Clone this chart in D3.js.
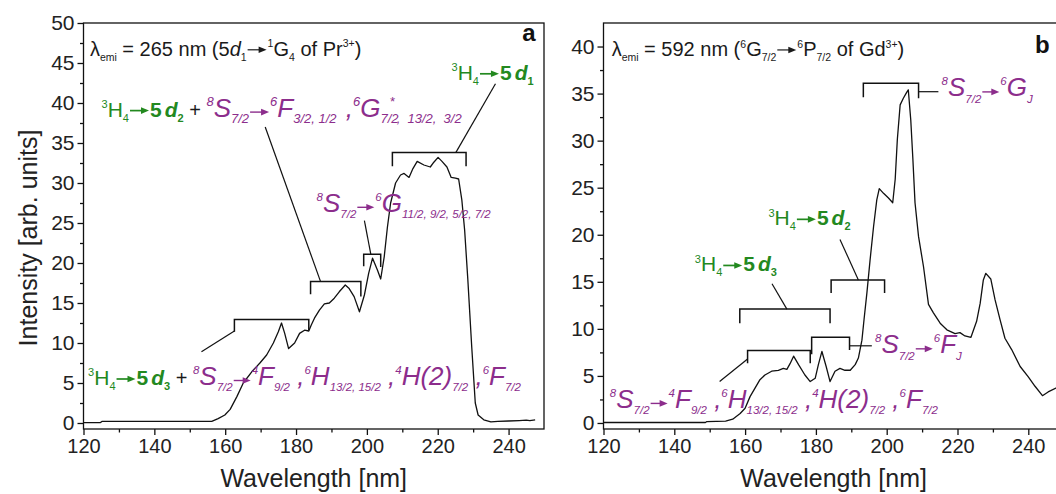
<!DOCTYPE html>
<html>
<head>
<meta charset="utf-8">
<script src="https://d3js.org/d3.v7.min.js"></script>
<style>
  body { margin: 0; background: #fff; }
  svg { display: block; }
</style>
</head>
<body>
<div id="chart"></div>
<script>
// ---------- values ----------
const xTicks = [120, 140, 160, 180, 200, 220, 240];
const xMinor = [130, 150, 170, 190, 210, 230];
const yTicksA = [0, 5, 10, 15, 20, 25, 30, 35, 40, 45, 50];
const yMinorA = [2.5, 7.5, 12.5, 17.5, 22.5, 27.5, 32.5, 37.5, 42.5, 47.5];
const yTicksB = [0, 5, 10, 15, 20, 25, 30, 35, 40];
const yMinorB = [2.5, 7.5, 12.5, 17.5, 22.5, 27.5, 32.5, 37.5];

// panel a: excitation spectrum, emission 265 nm (wavelength nm, intensity)
const spectrumA = [
  [120, 0.05], [124.8, 0.05], [125.2, 0.2], [156.2, 0.2], [158, 0.55], [159.9, 1.0],
  [161.4, 1.7], [163.3, 3.3], [165.1, 5.0], [167.5, 6.4], [169.8, 7.5], [171.7, 8.5],
  [173.6, 10.0], [175, 11.4], [175.9, 12.5], [176.8, 11.2], [177.9, 9.3], [179.6, 10.0],
  [181, 11.2], [182.4, 11.6], [183.6, 11.5], [184.3, 12.25], [185.2, 13.1], [186.6, 14.1],
  [188, 14.9], [189.4, 15.0], [190.8, 15.6], [192.2, 16.4], [193.9, 17.25], [195, 16.8],
  [196.4, 15.8], [197.9, 13.9], [199.3, 16.0], [200.5, 18.7], [201.6, 20.6], [203, 19.1],
  [203.9, 18.0], [204.9, 20.8], [205.8, 24.5], [206.7, 27.5], [208.1, 30.0], [209.5, 31.0],
  [210.5, 31.2], [211.9, 30.7], [213, 31.8], [214.2, 32.7], [216.1, 32.25], [217.9, 32.0],
  [218.9, 32.6], [220.1, 33.2], [221.2, 32.7], [222.6, 32.0], [223.8, 30.7], [225, 30.6],
  [225.9, 30.5], [226.8, 27.9], [227.6, 24.1], [228.5, 17.9], [229.6, 9.5], [230.6, 2.5],
  [231.4, 1.0], [233, 0.4], [235, 0.15], [237, 0.2], [240, 0.25], [243, 0.3], [245, 0.35],
  [246, 0.3], [247.5, 0.4]
];

// panel b: excitation spectrum, emission 592 nm
const spectrumB = [
  [120, 0.05], [148.8, 0.05], [149.2, 0.15], [154.5, 0.2], [156.5, 0.4], [158.6, 1.0],
  [160, 1.56], [161.4, 2.8], [162.8, 3.7], [164.2, 4.6], [165.6, 5.1], [167.5, 5.5],
  [169.4, 5.6], [170.8, 5.8], [171.8, 5.7], [172.7, 6.3], [173.7, 7.1], [175.1, 6.2],
  [176.9, 5.1], [178.4, 4.4], [179.8, 4.75], [180.7, 6.2], [181.7, 7.6], [182.9, 6.0],
  [184, 4.4], [185.4, 5.5], [186.8, 5.8], [188.2, 5.6], [189.7, 5.6], [191.1, 6.2],
  [192, 6.9], [193, 8.8], [193.6, 11.0], [194.4, 13.8], [195.3, 17.3], [196.3, 20.9],
  [197.2, 23.7], [197.9, 24.9], [199.1, 24.4], [200.5, 23.9], [201.7, 23.4], [202.4, 25.9],
  [203, 30.1], [203.8, 33.8], [204.7, 34.5], [205.6, 35.1], [206.1, 35.4], [206.8, 32.2],
  [207.4, 28], [208, 23.4], [209, 19.8], [210.4, 16.6], [211.8, 12.6], [213.2, 11.7],
  [215.1, 10.6], [217, 9.9], [219.3, 9.5], [220.7, 9.6], [222.1, 9.25], [223.8, 9.1],
  [225.4, 10.8], [226.4, 12.7], [227.3, 15.2], [228, 15.9], [229.4, 15.3], [230.6, 13.1],
  [232, 11.0], [233.4, 9.0], [235.3, 7.8], [237.7, 6.0], [240, 4.9], [241.9, 3.9],
  [244, 2.9], [245.6, 3.3], [247.8, 3.7], [249.5, 3.9]
];

// brackets: [from nm, to nm, level, left leg end, right leg end]
const bracketsA = [
  [162.6, 183.6, 12.95, 11.4, 11.6],
  [184.1, 198.3, 17.7, 16.1, 15.8],
  [199.1, 203.9, 21.1, 19.6, 19.5],
  [207.2, 228.0, 33.8, 32.1, 32.1]
];
const bracketsB = [
  [193.4, 209.0, 36.1, 34.6, 34.5],
  [184.3, 199.4, 15.2, 13.8, 13.8],
  [158.5, 184.0, 12.1, 10.6, 10.6],
  [160.7, 178.4, 7.7, 6.35, 6.35],
  [178.8, 189.5, 9.1, 7.3, 7.75]
];
// leader lines: [nm1, y1, nm2, y2]
const leadersA = [
  [153.3, 8.9, 162.6, 11.5],
  [186.9, 17.7, 171.3, 37.0],
  [201.1, 21.1, 199.3, 25.3],
  [225.1, 33.8, 236.3, 42.4]
];
const leadersB = [
  [209.0, 35.2, 214.6, 35.2],
  [192.0, 15.2, 186.8, 19.5],
  [171.8, 12.1, 167.6, 14.8],
  [160.7, 6.8, 152.8, 4.4],
  [189.5, 8.2, 195.8, 8.2]
];

// label texts: [text, kind, colour, dx]  kind: n normal, i italic, b bold, p sup, s sub, a arrow
const lambdaA = [["λ","n","k"],["emi","s","k"],[" = 265 nm (5","n","k"],["d","i","k"],["1","s","k"],
  ["→","a","k"],["1","p","k"],["G","n","k"],["4","s","k"],[" of Pr","n","k"],["3+","p","k"],[")","n","k"]];
const lambdaB = [["λ","n","k"],["emi","s","k"],[" = 592 nm (","n","k"],["6","p","k"],["G","n","k"],["7/2","s","k"],
  ["→","a","k"],["6","p","k"],["P","n","k"],["7/2","s","k"],[" of Gd","n","k"],["3+","p","k"],[")","n","k"]];
const lab5d1 = [["3","p","g"],["H","n","g"],["4","s","g"],["→","a","g"],["5","b","g"],["d","bi","g",3],["1","sb","g"]];
const lab5d2 = [["3","p","g"],["H","n","g"],["4","s","g"],["→","a","g"],["5","b","g"],["d","bi","g",3],["2","sb","g"]];
const lab5d3 = [["3","p","g"],["H","n","g"],["4","s","g"],["→","a","g"],["5","b","g"],["d","bi","g",3],["3","sb","g"]];
const plus = [[" + ","n","k"]];
const sF = [["8","pi","q"],["S","i","q"],["7/2","si","q"],["→","a","q"],["6","pi","q"],["F","i","q"],
  ["3/2, 1/2","si","q"],[" ,","i","q",2],["6","pi","q"],["G","i","q"],["7/2","si","q"],["*","pi","q",-9],
  [",  13/2,  3/2","si","q",2]];
const sG = [["8","pi","p"],["S","i","p"],["7/2","si","p"],["→","a","p"],["6","pi","p"],["G","i","p"],
  ["11/2, 9/2, 5/2, 7/2","si","p"]];
const sLow = [["8","pi","p"],["S","i","p"],["7/2","si","p"],["→","a","p"],["4","pi","p"],["F","i","p"],
  ["9/2","si","p"],[" ,","i","p"],["6","pi","p"],["H","i","p"],["13/2, 15/2","si","p"],[" ,","i","p"],
  ["4","pi","p"],["H(2)","i","p"],["7/2","si","p"],[" ,","i","p"],["6","pi","p"],["F","i","p"],["7/2","si","p"]];
const sGJ = [["8","pi","p"],["S","i","p"],["7/2","si","p"],["→","a","p"],["6","pi","p"],["G","i","p"],["J","si","p"]];
const sFJ = [["8","pi","p"],["S","i","p"],["7/2","si","p"],["→","a","p"],["6","pi","p"],["F","i","p"],["J","si","p"]];

// where each label starts, in data units of its panel
const labelsA = [
  { at: [121.8, 45.9], parts: lambdaA },
  { at: [223.9, 42.9], parts: lab5d1 },
  { at: [125.1, 38.3], parts: lab5d2.concat(plus, sF) },
  { at: [185.8, 26.4], parts: sG },
  { at: [121.3, 4.75], parts: lab5d3.concat(plus, sLow) }
];
const labelsB = [
  { at: [122.3, 39.0], parts: lambdaB },
  { at: [215.5, 34.7], parts: sGJ },
  { at: [166.6, 21.0], parts: lab5d2 },
  { at: [145.8, 16.1], parts: lab5d3 },
  { at: [196.7, 7.4], parts: sFJ },
  { at: [121.8, 1.6], parts: sLow }
];

// ---------- drawing ----------
const FONT = "'Liberation Sans', Arial, sans-serif";
const COLORS = { g: "#23891f", p: "#8c2d8c", q: "#8c2d8c", k: "#1a1a1a" };
// [main size, small size, arrow length, arrow lift, arrow stroke]
const SIZES = {
  g: [21, 11, 21, 6, 1.7],
  p: [26, 11.5, 19, 4.5, 1.4],
  q: [26, 13, 21, 4.5, 1.4],
  k: [20, 10.5, 21, 6, 1.2]
};

const svg = d3.select("#chart")
  .append("svg")
  .attr("width", 1056)
  .attr("height", 494);

svg.append("rect").attr("width", 1056).attr("height", 494).attr("fill", "#fff");

function rich(g, x, y, parts) {
  const t = g.append("text")
    .attr("x", x).attr("y", y)
    .attr("font-family", FONT)
    .style("white-space", "pre");
  let cur = 0;
  const arrows = [];
  parts.forEach(([str, kind, c, dx]) => {
    const [M, m, A, lift, sw] = SIZES[c];
    let size = M, shift = 0;
    if (kind[0] === "p") { size = m; shift = -0.42 * M; }
    else if (kind[0] === "s") { size = m; shift = 0.24 * M; }
    const ts = t.append("tspan")
      .attr("dy", shift - cur)
      .attr("dx", dx || 0)
      .attr("font-style", kind.includes("i") ? "italic" : "normal")
      .attr("font-weight", kind.includes("b") ? "bold" : "normal")
      .attr("fill", COLORS[c]);
    if (kind === "a") {
      // invisible em dash reserves the room, the arrow itself is drawn below
      ts.attr("font-size", A).attr("fill", "none").text("\u2014");
      arrows.push({ node: ts.node(), color: COLORS[c], lift: lift, sw: sw });
    } else {
      ts.attr("font-size", size).text(str);
    }
    cur = shift;
  });
  arrows.forEach(a => {
    const p = a.node.getStartPositionOfChar(0);
    const w = a.node.getComputedTextLength();
    const xa = p.x + 1, xb = p.x + w - 1, ya = p.y - a.lift;
    g.append("line")
      .attr("x1", xa).attr("x2", xb - 5)
      .attr("y1", ya).attr("y2", ya)
      .attr("stroke", a.color).attr("stroke-width", a.sw);
    g.append("path")
      .attr("d", "M" + xb + "," + ya + "L" + (xb - 8) + "," + (ya - 3.3) + "L" + (xb - 8) + "," + (ya + 3.3) + "Z")
      .attr("fill", a.color);
  });
}

function drawPanel(cfg) {
  const x = d3.scaleLinear().domain([120, 250]).range(cfg.xRange);
  const y = d3.scaleLinear().domain(cfg.yDomain).range([429, 23]);
  const g = svg.append("g");
  const x0 = cfg.xRange[0], x1 = cfg.xRange[1];

  // axes
  const ax = g.append("g").attr("transform", "translate(0,429)")
    .call(d3.axisBottom(x).tickValues(xTicks).tickSize(6).tickSizeOuter(0).tickPadding(4));
  const axm = g.append("g").attr("transform", "translate(0,429)")
    .call(d3.axisBottom(x).tickValues(xMinor).tickSize(3.5).tickFormat(""));
  const ay = g.append("g").attr("transform", "translate(" + x0 + ",0)")
    .call(d3.axisLeft(y).tickValues(cfg.yTicks).tickSize(6).tickSizeOuter(0).tickPadding(3));
  const aym = g.append("g").attr("transform", "translate(" + x0 + ",0)")
    .call(d3.axisLeft(y).tickValues(cfg.yMinor).tickSize(3.5).tickFormat(""));
  [ax, axm, ay, aym].forEach(a => {
    a.select(".domain").remove();
    a.selectAll("line").attr("stroke", "#111").attr("stroke-width", 1.3);
    a.selectAll("text").attr("font-family", FONT).attr("font-size", 20).attr("fill", "#222");
  });
  ay.selectAll("text").attr("font-size", 21);

  // frame
  g.append("rect")
    .attr("x", x0).attr("y", 23)
    .attr("width", x1 - x0).attr("height", 406)
    .attr("fill", "none").attr("stroke", "#111").attr("stroke-width", 1.3);

  // spectrum
  const line = d3.line().x(d => x(d[0])).y(d => y(d[1]));
  g.append("path")
    .datum(cfg.data)
    .attr("d", line)
    .attr("fill", "none")
    .attr("stroke", "#111")
    .attr("stroke-width", 1.3)
    .attr("stroke-linejoin", "round");

  // brackets and leader lines
  g.selectAll(".bracket")
    .data(cfg.brackets)
    .enter()
    .append("path")
    .attr("class", "bracket")
    .attr("d", d => "M" + x(d[0]) + "," + y(d[3]) + "V" + y(d[2]) + "H" + x(d[1]) + "V" + y(d[4]))
    .attr("fill", "none").attr("stroke", "#111").attr("stroke-width", 1.5);

  g.selectAll(".leader")
    .data(cfg.leaders)
    .enter()
    .append("line")
    .attr("class", "leader")
    .attr("x1", d => x(d[0])).attr("y1", d => y(d[1]))
    .attr("x2", d => x(d[2])).attr("y2", d => y(d[3]))
    .attr("stroke", "#111").attr("stroke-width", 1.2);

  cfg.labels.forEach(l => rich(g, x(l.at[0]), y(l.at[1]), l.parts));

  // panel letter
  g.append("text")
    .attr("x", x(cfg.letterAt[0])).attr("y", y(cfg.letterAt[1]))
    .attr("text-anchor", cfg.letterAnchor)
    .attr("font-family", FONT).attr("font-size", 24).attr("font-weight", "bold")
    .attr("fill", "#111")
    .text(cfg.letter);

  // x title
  g.append("text")
    .attr("x", (x0 + x1) / 2).attr("y", 487)
    .attr("text-anchor", "middle")
    .attr("font-family", FONT).attr("font-size", 25).attr("fill", "#222")
    .text("Wavelength [nm]");
}

drawPanel({
  xRange: [83.5, 544], yDomain: [-0.75, 50], yTicks: yTicksA, yMinor: yMinorA,
  data: spectrumA, brackets: bracketsA, leaders: leadersA, labels: labelsA,
  letter: "a", letterAt: [247.6, 47.8], letterAnchor: "end"
});

drawPanel({
  xRange: [603.5, 1063.7], yDomain: [-0.64, 42.5], yTicks: yTicksB, yMinor: yMinorB,
  data: spectrumB, brackets: bracketsB, leaders: leadersB, labels: labelsB,
  letter: "b", letterAt: [241.9, 39.3], letterAnchor: "start"
});

svg.append("text")
  .attr("transform", "translate(37,238) rotate(-90)")
  .attr("text-anchor", "middle")
  .attr("font-family", FONT).attr("font-size", 25).attr("fill", "#222")
  .text("Intensity [arb. units]");
</script>
</body>
</html>
